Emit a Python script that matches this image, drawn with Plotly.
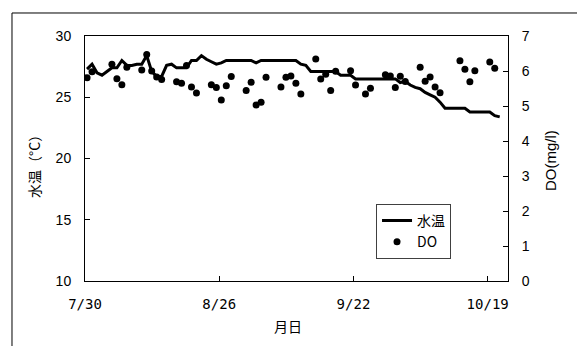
import pandas as pd
import plotly.graph_objects as go

# Water temperature (°C), one reading per day from 7/30, taken around 10:00
start_date = "2009-07-30"
temp_values = [
    27.3, 27.7, 27.0, 26.8, 27.1, 27.4, 27.4, 28.0, 27.6, 27.6,
    27.7, 27.7, 28.4, 27.1, 26.7, 26.7, 27.6, 27.7, 27.4, 27.4,
    27.4, 28.0, 28.0, 28.4, 28.1, 27.9, 27.7, 27.8, 28.0, 28.0,
    28.0, 28.0, 28.0, 28.0, 27.8, 28.0, 28.0, 28.0, 28.0, 28.0,
    28.0, 28.0, 28.0, 27.7, 27.6, 27.1, 27.1, 27.1, 27.1, 27.1,
    27.1, 26.8, 26.8, 26.8, 26.5, 26.5, 26.5, 26.5, 26.5, 26.5,
    26.5, 26.5, 26.5, 26.2, 26.3, 26.0, 25.8, 25.7, 25.4, 25.2,
    25.0, 24.6, 24.1, 24.1, 24.1, 24.1, 24.1, 23.8, 23.8, 23.8,
    23.8, 23.8, 23.5, 23.4,
]

# Dissolved oxygen (mg/l), sampled on working days
do_dates = [
    "07-30", "07-31", "08-04", "08-05", "08-06", "08-07",
    "08-10", "08-11", "08-12", "08-13", "08-14",
    "08-17", "08-18", "08-19", "08-20", "08-21",
    "08-24", "08-25", "08-26", "08-27", "08-28",
    "08-31", "09-01", "09-02", "09-03", "09-04",
    "09-07", "09-08", "09-09", "09-10", "09-11",
    "09-14", "09-15", "09-16", "09-17", "09-18",
    "09-21", "09-22", "09-24", "09-25",
    "09-28", "09-29", "09-30", "10-01", "10-02",
    "10-05", "10-06", "10-07", "10-08", "10-09",
    "10-13", "10-14", "10-15", "10-16",
    "10-19", "10-20",
]
do_values = [
    5.81, 5.98, 6.19, 5.78, 5.61, 6.11,
    6.03, 6.47, 6.00, 5.83, 5.76,
    5.69, 5.65, 6.16, 5.54, 5.37,
    5.61, 5.53, 5.17, 5.58, 5.84,
    5.44, 5.68, 5.03, 5.11, 5.82,
    5.54, 5.82, 5.86, 5.65, 5.34,
    6.34, 5.77, 5.91, 5.44, 5.99,
    6.01, 5.60, 5.34, 5.51,
    5.89, 5.86, 5.53, 5.85, 5.70,
    6.11, 5.71, 5.83, 5.54, 5.38,
    6.29, 6.05, 5.69, 6.01,
    6.26, 6.08,
]

x_tick_dates = ["2009-07-30", "2009-08-26", "2009-09-22", "2009-10-19"]
x_tick_labels = ["7/30", "8/26", "9/22", "10/19"]
x_range = ["2009-07-30", "2009-10-23 02:00"]

reading_time = pd.Timedelta(hours=10)
temp_x = pd.date_range(start_date, periods=len(temp_values), freq="D") + reading_time
do_x = pd.to_datetime(["2009-" + d for d in do_dates]) + reading_time

num_font = "Liberation Sans, Arial, sans-serif"
cjk_font = "Noto Sans CJK JP, sans-serif"

fig = go.Figure()
fig.add_trace(go.Scatter(
    x=temp_x, y=temp_values, name="水温", mode="lines",
    line=dict(color="black", width=3), yaxis="y",
))
fig.add_trace(go.Scatter(
    x=do_x, y=do_values, name="DO", mode="markers",
    marker=dict(color="black", size=7, symbol="circle"), yaxis="y2",
))

fig.update_layout(
    width=577, height=346,
    margin=dict(l=85, r=69, t=36, b=65),
    paper_bgcolor="white", plot_bgcolor="white",
    showlegend=True,
    legend=dict(
        x=0.688, y=0.315, xanchor="left", yanchor="top",
        bgcolor="white", bordercolor="#404040", borderwidth=1,
        font=dict(family=cjk_font, size=14, color="black"),
        tracegroupgap=0, itemwidth=30,
    ),
    xaxis=dict(
        type="date", range=x_range,
        tickvals=x_tick_dates, ticktext=x_tick_labels,
        ticks="inside", ticklen=5, tickcolor="black",
        showline=True, linecolor="black", linewidth=1, mirror=True,
        showgrid=False, zeroline=False,
        tickfont=dict(family="DejaVu Sans Mono, monospace", size=14, color="black"),
        ticklabelstandoff=10,
    ),
    yaxis=dict(
        range=[10, 30], tickvals=[10, 15, 20, 25, 30],
        ticks="inside", ticklen=5, tickcolor="black",
        showline=True, linecolor="black", linewidth=1,
        showgrid=False, zeroline=False,
        tickfont=dict(family=num_font, size=14, color="black"),
        ticklabelstandoff=10,
    ),
    yaxis2=dict(
        range=[0, 7], tickvals=list(range(0, 8)),
        overlaying="y", side="right",
        ticks="inside", ticklen=5, tickcolor="black",
        showline=True, linecolor="black", linewidth=1,
        showgrid=False, zeroline=False,
        tickfont=dict(family=num_font, size=14, color="black"),
        ticklabelstandoff=10,
    ),
    annotations=[
        dict(text="水温（°C）", x=-0.1206, y=0.482, xref="paper", yref="paper",
             textangle=-90, showarrow=False, xanchor="center", yanchor="middle",
             font=dict(family=cjk_font, size=14, color="black")),
        dict(text="DO(mg/l)", x=1.1017, y=0.49, xref="paper", yref="paper",
             textangle=-90, showarrow=False, xanchor="center", yanchor="middle",
             font=dict(family=num_font, size=15, color="black")),
        dict(text="月日", x=0.48, y=-0.184, xref="paper", yref="paper",
             showarrow=False, xanchor="center", yanchor="middle",
             font=dict(family=cjk_font, size=14, color="black")),
    ],
    shapes=[
        # outer chart-area frame
        dict(type="rect", xref="paper", yref="paper",
             x0=-0.1726, y0=1.0939, x1=2.0, y1=-1.0,
             line=dict(color="black", width=1), fillcolor="rgba(0,0,0,0)",
             layer="below"),
    ],
)

fig.write_html("out.html")
